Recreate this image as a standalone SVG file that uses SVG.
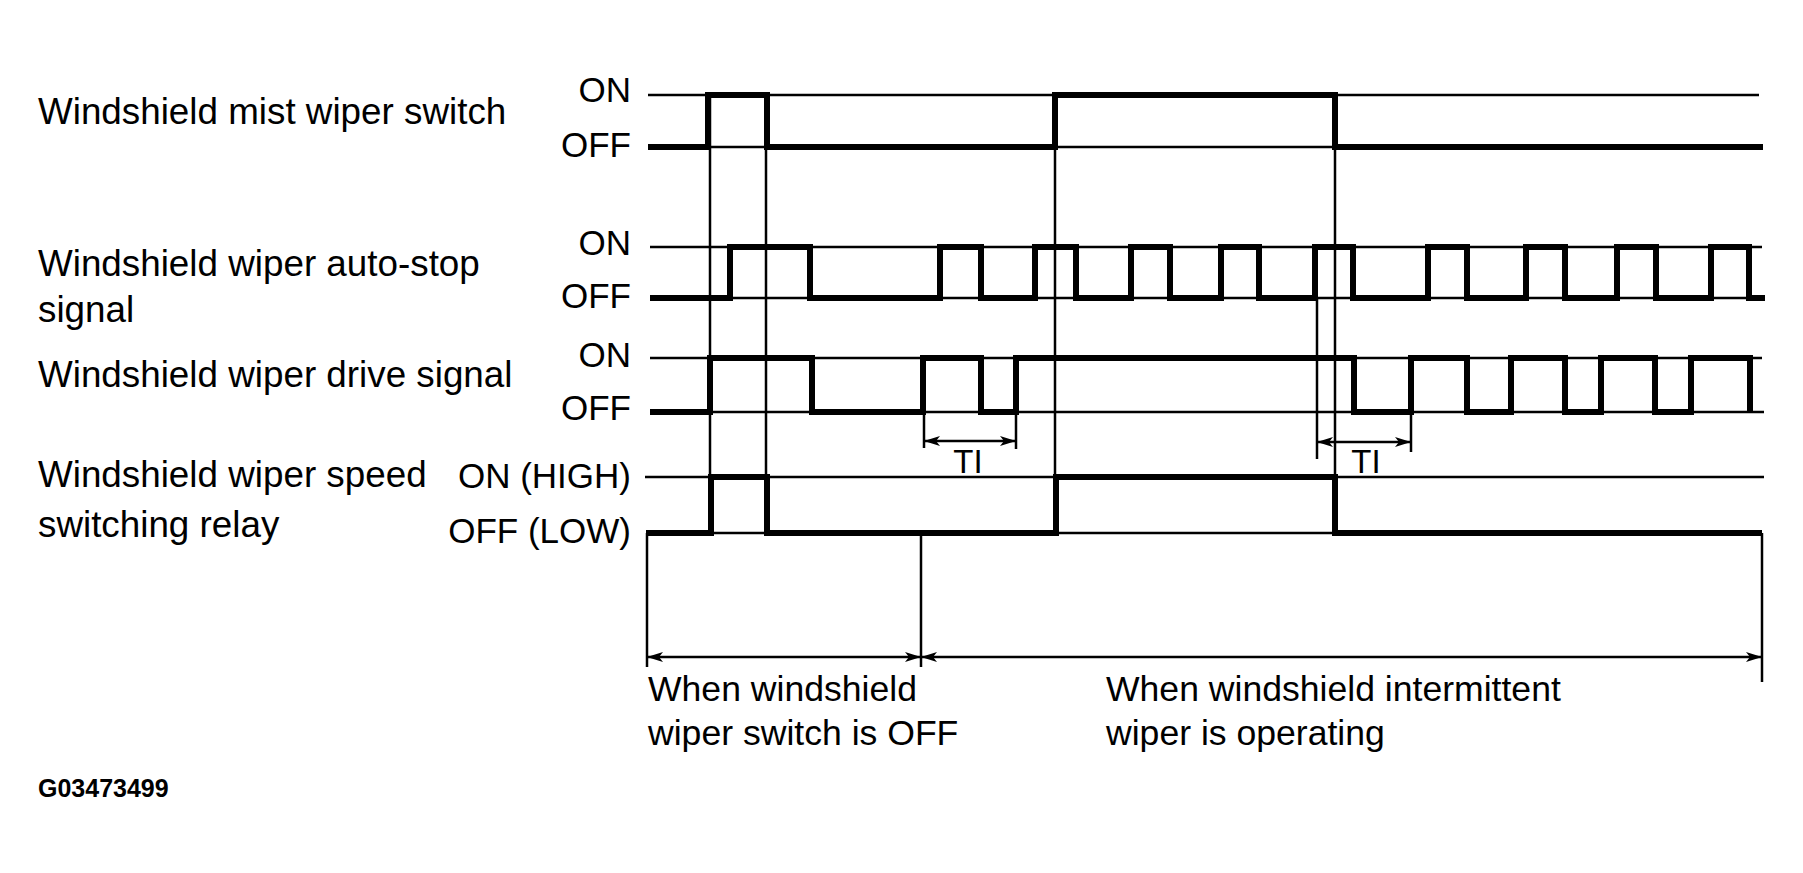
<svg xmlns="http://www.w3.org/2000/svg" width="1803" height="873" viewBox="0 0 1803 873">
<style>
.bg{fill:#fff}
.lbl{font-family:"Liberation Sans",Arial,sans-serif;font-size:36.8px;fill:#000}
.btm{font-family:"Liberation Sans",Arial,sans-serif;font-size:35.6px;fill:#000}
.lv{font-family:"Liberation Sans",Arial,sans-serif;font-size:35px;fill:#000;text-anchor:end}
.ti{font-family:"Liberation Sans",Arial,sans-serif;font-size:33px;fill:#000;text-anchor:middle}
.code{font-family:"Liberation Sans",Arial,sans-serif;font-size:25px;font-weight:bold;fill:#000}
.thin{stroke:#000;stroke-width:2.5;fill:none}
.thick{stroke:#000;stroke-width:6;fill:none;stroke-linejoin:miter}
.dim{stroke:#000;stroke-width:2.5;fill:none;marker-start:url(#ah);marker-end:url(#ah)}
</style>
<defs>
<marker id="ah" viewBox="0 0 16 10" markerUnits="userSpaceOnUse" markerWidth="16" markerHeight="10" refX="16" refY="5" orient="auto-start-reverse">
<path d="M0,0 L16,5 L0,10 L4,5 z" fill="#000"/>
</marker>
</defs>
<rect class="bg" x="0" y="0" width="1803" height="873"/>

<g id="labels">
<text class="lbl" x="38" y="124">Windshield mist wiper switch</text>
<text class="lbl" x="38" y="276">Windshield wiper auto-stop</text>
<text class="lbl" x="38" y="322">signal</text>
<text class="lbl" x="38" y="487">Windshield wiper speed</text>
<text class="lbl" x="38" y="387">Windshield wiper drive signal</text>
<text class="lbl" x="38" y="537">switching relay</text>
</g>

<g id="level-labels">
<text class="lv" x="631" y="102">ON</text>
<text class="lv" x="631" y="157">OFF</text>
<text class="lv" x="631" y="255">ON</text>
<text class="lv" x="631" y="308">OFF</text>
<text class="lv" x="631" y="367">ON</text>
<text class="lv" x="631" y="420">OFF</text>
<text class="lv" x="631" y="488">ON (HIGH)</text>
<text class="lv" x="631" y="543">OFF (LOW)</text>
</g>

<g id="reference-lines">
<line class="thin" x1="648" y1="95" x2="1759" y2="95"/>
<line class="thin" x1="648" y1="147" x2="1763" y2="147"/>
<line class="thin" x1="650" y1="247" x2="1762" y2="247"/>
<line class="thin" x1="650" y1="298" x2="1765" y2="298"/>
<line class="thin" x1="650" y1="358" x2="1762" y2="358"/>
<line class="thin" x1="650" y1="412" x2="1764" y2="412"/>
<line class="thin" x1="645" y1="477" x2="1764" y2="477"/>
<line class="thin" x1="646" y1="533" x2="1762" y2="533"/>
</g>

<g id="waveforms">
<path id="mist" class="thick" d="M648,147 H708 V95 H767 V147 H1055 V95 H1335 V147 H1763"/>
<path id="autostop" class="thick" d="M650,298 H730 V247 H810 V298 H940 V247 H981 V298 H1035 V247 H1076 V298 H1131 V247 H1170 V298 H1221 V247 H1259 V298 H1315 V247 H1353 V298 H1428 V247 H1467 V298 H1526 V247 H1565 V298 H1617 V247 H1656 V298 H1711 V247 H1749 V298 H1765"/>
<path id="drive" class="thick" d="M650,412 H710 V358 H812 V412 H923 V358 H981 V412 H1016 V358 H1354 V412 H1411 V358 H1467 V412 H1511 V358 H1565 V412 H1601 V358 H1655 V412 H1691 V358 H1750 V412"/>
<path id="relay" class="thick" d="M646,533 H711 V477 H767 V533 H1056 V477 H1335 V533 H1762"/>
</g>

<g id="connectors">
<line class="thin" x1="710" y1="95" x2="710" y2="533"/>
<line class="thin" x1="766" y1="95" x2="766" y2="533"/>
<line class="thin" x1="1055" y1="95" x2="1055" y2="533"/>
<line class="thin" x1="1335" y1="95" x2="1335" y2="533"/>
<line class="thin" x1="924" y1="414" x2="924" y2="448"/>
<line class="thin" x1="1016" y1="414" x2="1016" y2="449"/>
<line class="dim" x1="924" y1="441" x2="1016" y2="441"/>
<line class="thin" x1="1317" y1="298" x2="1317" y2="459"/>
<line class="thin" x1="1411" y1="414" x2="1411" y2="452"/>
<line class="dim" x1="1317" y1="442" x2="1411" y2="442"/>
<line class="thin" x1="647" y1="533" x2="647" y2="667"/>
<line class="thin" x1="921" y1="533" x2="921" y2="667"/>
<line class="thin" x1="1762" y1="533" x2="1762" y2="682"/>
<line class="dim" x1="647" y1="657" x2="921" y2="657"/>
<line class="dim" x1="921" y1="657" x2="1762" y2="657"/>
</g>

<g id="annotations">
<text class="ti" x="968" y="473">TI</text>
<text class="ti" x="1366" y="473">TI</text>
<text class="btm" x="648" y="701">When windshield</text>
<text class="btm" x="648" y="745">wiper switch is OFF</text>
<text class="btm" x="1106" y="701">When windshield intermittent</text>
<text class="btm" x="1106" y="745">wiper is operating</text>
<text class="code" x="38" y="797">G03473499</text>
</g>
</svg>
